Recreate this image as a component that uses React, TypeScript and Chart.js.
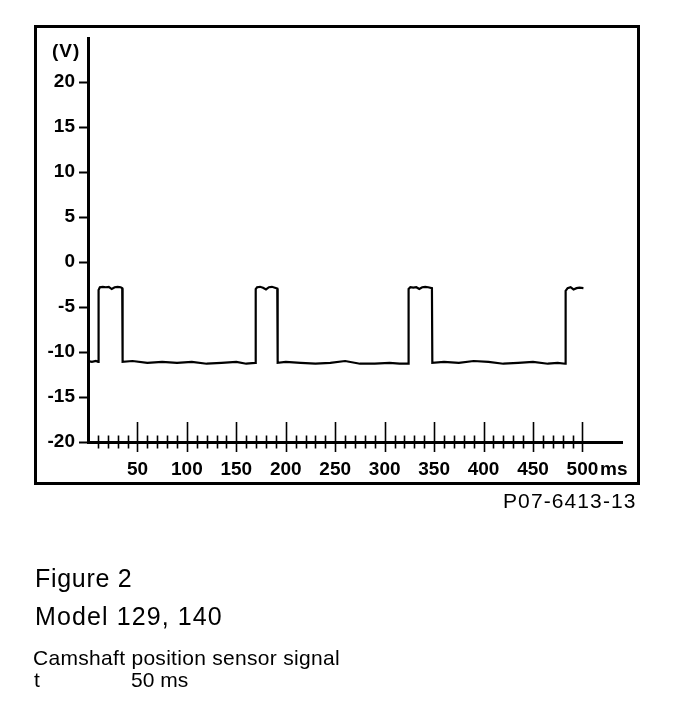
import React, { useEffect, useRef } from "react";
import { Chart, registerables } from "chart.js";

Chart.register(...registerables);

// Signal trace (time in ms, voltage in V)
const timeMs = [
  0, 4, 8, 10.3,
  10.7, 12, 15, 18, 21, 24, 27, 30, 33, 34.6,
  35, 45, 60, 75, 90, 105, 120, 135, 150, 160, 169.2,
  169.6, 171, 174, 177, 180, 183, 186, 189, 191.4,
  191.8, 200, 215, 230, 245, 260, 275, 290, 305, 315, 323.8,
  324.2, 326, 329, 332, 335, 338, 341, 344, 347.8,
  348.2, 360, 375, 390, 405, 420, 435, 450, 465, 475, 482.6,
  483, 485, 488, 491, 494, 497, 501,
];
const signalV = [
  -11.0, -11.1, -11.0, -11.1,
  -3.1, -2.8, -2.75, -2.8, -2.75, -3.0, -2.8, -2.75, -2.8, -2.9,
  -11.1, -11.0, -11.2, -11.1, -11.2, -11.1, -11.3, -11.2, -11.1, -11.3, -11.2,
  -3.0, -2.8, -2.75, -2.85, -3.05, -2.8, -2.75, -2.85, -2.95,
  -11.2, -11.1, -11.2, -11.3, -11.2, -11.0, -11.3, -11.3, -11.2, -11.3, -11.3,
  -3.0, -2.8, -2.85, -2.8, -3.0, -2.8, -2.75, -2.8, -2.9,
  -11.2, -11.1, -11.2, -11.0, -11.1, -11.3, -11.2, -11.1, -11.3, -11.2, -11.3,
  -3.2, -2.9, -2.8, -3.05, -2.9, -2.85, -2.9,
];

// Axis settings
const xMin = 0;
const xMax = 540;
const xMinorStep = 10;
const xMajorStep = 50;
const xLabelMax = 500;
const yMin = -20;
const yMax = 24.9;
const yStep = 5;
const yLabelMax = 20;

const FONT = '"Liberation Sans", Arial, Helvetica, sans-serif';

const xTickPlugin = {
  id: "xTickMarks",
  afterDraw(chart: any) {
    const xs = chart.scales.x;
    const { ctx, chartArea } = chart;
    const y0 = chartArea.bottom;
    ctx.save();
    ctx.strokeStyle = "#000";
    ctx.lineWidth = 1.6;
    xs.ticks.forEach((t: any) => {
      const v = t.value;
      if (v <= 0 || v > xLabelMax) return;
      const px = Math.round(xs.getPixelForValue(v)) + 0.5;
      const major = v % xMajorStep === 0;
      ctx.beginPath();
      ctx.moveTo(px, major ? y0 - 20 : y0 - 6.5);
      ctx.lineTo(px, major ? y0 + 10 : y0 + 6.5);
      ctx.stroke();
    });
    ctx.restore();
  },
};

export default function App() {
  const ref = useRef<HTMLCanvasElement | null>(null);

  useEffect(() => {
    if (!ref.current) return;
    const chart = new Chart(ref.current, {
      type: "line",
      data: {
        datasets: [
          {
            data: timeMs.map((t, i) => ({ x: t, y: signalV[i] })),
            borderColor: "#000",
            borderWidth: 2.2,
            pointRadius: 0,
            tension: 0,
            fill: false,
          },
        ],
      },
      options: {
        animation: false,
        responsive: false,
        devicePixelRatio: 1,
        layout: { padding: { left: 0, top: 38, right: 66, bottom: 0 } },
        plugins: { legend: { display: false }, tooltip: { enabled: false }, title: { display: false } },
        scales: {
          x: {
            type: "linear",
            min: xMin,
            max: xMax,
            afterFit: (s: any) => {
              s.height = 274;
            },
            border: { display: true, width: 3, color: "#000" },
            grid: { display: false },
            ticks: {
              stepSize: xMinorStep,
              autoSkip: false,
              maxRotation: 0,
              includeBounds: false,
              padding: 8,
              color: "#000",
              font: { family: FONT, size: 19, weight: "bold" },
              callback: (v: any) => {
                const n = Number(v);
                return n > 0 && n <= xLabelMax && n % xMajorStep === 0 ? String(n) : "";
              },
            },
          },
          y: {
            type: "linear",
            min: yMin,
            max: yMax,
            afterFit: (s: any) => {
              s.width = 88;
            },
            border: { display: true, width: 3, color: "#000" },
            grid: {
              display: true,
              drawOnChartArea: false,
              drawTicks: true,
              tickLength: 9,
              tickWidth: 2,
              tickColor: "#000",
              color: "#000",
            },
            ticks: {
              stepSize: yStep,
              includeBounds: false,
              padding: 4,
              color: "#000",
              font: { family: FONT, size: 19, weight: "bold" },
              callback: (v: any) => {
                const n = Number(v);
                return n <= yLabelMax ? String(n) : "";
              },
            },
          },
        },
      },
      plugins: [xTickPlugin],
    } as any);
    return () => chart.destroy();
  }, []);

  const abs = (s: React.CSSProperties): React.CSSProperties => ({
    position: "absolute",
    lineHeight: 1,
    whiteSpace: "nowrap",
    color: "#000",
    ...s,
  });

  return (
    <div
      style={{
        position: "fixed",
        left: 0,
        top: 0,
        width: 688,
        height: 716,
        background: "#fff",
        fontFamily: FONT,
        overflow: "hidden",
      }}
    >
      <div
        style={{
          position: "absolute",
          left: 34,
          top: 25,
          width: 606,
          height: 460,
          border: "3px solid #000",
          boxSizing: "border-box",
        }}
      />
      <canvas
        ref={ref}
        width={688}
        height={716}
        style={{ position: "absolute", left: 0, top: 0, width: 688, height: 716 }}
      />
      <div style={abs({ left: 52, top: 41, fontSize: 19, fontWeight: "bold", letterSpacing: 1 })}>(V)</div>
      <div style={abs({ left: 600, top: 459, fontSize: 19, fontWeight: "bold" })}>ms</div>
      <div style={abs({ left: 503, top: 490, fontSize: 21, letterSpacing: 1.1 })}>P07-6413-13</div>
      <div style={abs({ left: 35, top: 566, fontSize: 25, letterSpacing: 0.7 })}>Figure 2</div>
      <div style={abs({ left: 35, top: 604, fontSize: 25, letterSpacing: 1.1 })}>Model 129, 140</div>
      <div style={abs({ left: 33, top: 647, fontSize: 21, letterSpacing: 0.3 })}>Camshaft position sensor signal</div>
      <div style={abs({ left: 34, top: 669, fontSize: 21 })}>t</div>
      <div style={abs({ left: 131, top: 669, fontSize: 21 })}>50 ms</div>
    </div>
  );
}
